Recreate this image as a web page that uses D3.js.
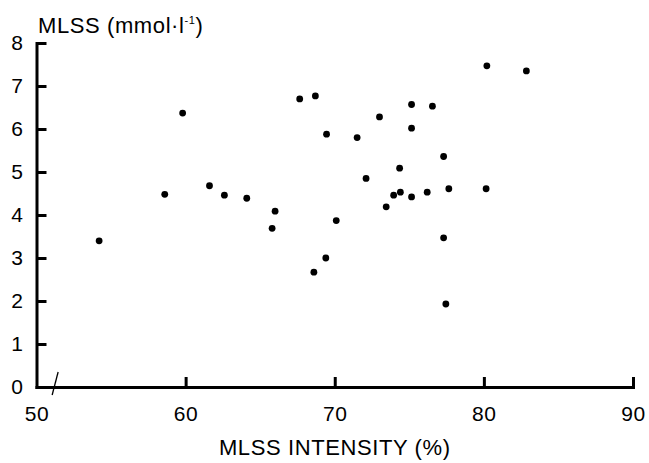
<!DOCTYPE html>
<html>
<head>
<meta charset="utf-8">
<script src="https://cdn.jsdelivr.net/npm/d3@7"></script>
<style>
  body { margin: 0; background: #fff; }
  text { font-family: "Liberation Sans", Arial, sans-serif; fill: #000; }
</style>
</head>
<body>
<div id="chart"></div>
<script>
// MLSS intensity (%) vs MLSS (mmol/l)
var intensity = [54.2, 58.6, 59.8, 61.6, 62.6, 64.1, 65.8, 66.0, 67.65, 68.6, 68.7,
                 69.4, 69.45, 70.1, 71.5, 72.1, 73.0, 73.45, 73.95, 74.35, 74.4,
                 75.15, 75.15, 75.15, 76.2, 76.55, 77.3, 77.3, 77.45, 77.65, 80.15, 80.2, 82.85];
var mlss = [3.40, 4.48, 6.37, 4.68, 4.46, 4.39, 3.69, 4.09, 6.70, 2.67, 6.77,
            3.00, 5.88, 3.87, 5.80, 4.85, 6.28, 4.19, 4.46, 5.09, 4.53,
            6.57, 6.02, 4.42, 4.53, 6.53, 5.36, 3.47, 1.93, 4.61, 4.61, 7.47, 7.35];
var xTicks = [50, 60, 70, 80, 90];
var yTicks = [0, 1, 2, 3, 4, 5, 6, 7, 8];

var width = 649, height = 463;
var svg = d3.select('#chart').append('svg').attr('width', width).attr('height', height);

var x = d3.scaleLinear().domain([50, 90]).range([36.5, 633]);
var y = d3.scaleLinear().domain([0, 8]).range([387, 43]);

// x axis, ticks pointing up into the plot
var gx = svg.append('g').attr('transform', 'translate(0,' + y(0) + ')')
    .call(d3.axisBottom(x).tickValues(xTicks).tickSizeInner(-10).tickSizeOuter(0).tickPadding(19));
gx.selectAll('.tick line').filter(function(d){ return d === 50; }).remove();

// y axis, ticks pointing right
var gy = svg.append('g').attr('transform', 'translate(' + x(50) + ',0)')
    .call(d3.axisLeft(y).tickValues(yTicks).tickSizeInner(-10).tickSizeOuter(0).tickPadding(13));
gy.selectAll('.tick line').filter(function(d){ return d === 0; }).remove();

[gx, gy].forEach(function(g){
  g.select('.domain').attr('stroke', '#000').attr('stroke-width', 3).attr('stroke-linecap', 'square');
  g.selectAll('.tick line').attr('stroke', '#000').attr('stroke-width', 3);
  g.selectAll('.tick text').style('font-size', '21px').style('letter-spacing', '0.6px').attr('fill', '#000');
});

// axis break mark
svg.append('line')
  .attr('x1', x(51.05)).attr('y1', y(0) + 8)
  .attr('x2', x(51.45)).attr('y2', y(0) - 15)
  .attr('stroke', '#000').attr('stroke-width', 1.3);

// points
svg.append('g').selectAll('circle')
  .data(d3.range(intensity.length))
  .enter().append('circle')
  .attr('cx', function(i){ return x(intensity[i]); })
  .attr('cy', function(i){ return y(mlss[i]); })
  .attr('r', 3.4)
  .attr('fill', '#000');

// titles
svg.append('text')
  .attr('x', x(70)).attr('y', 455)
  .attr('text-anchor', 'middle')
  .style('font-size', '22px')
  .style('letter-spacing', '0.6px')
  .text('MLSS INTENSITY (%)');

var yt = svg.append('text').attr('x', 38).attr('y', 33).style('font-size', '22px').style('letter-spacing', '0.6px');
yt.append('tspan').text('MLSS (mmol\u00b7l');
yt.append('tspan').attr('dy', -9).style('font-size', '11px').text('-1');
yt.append('tspan').attr('dy', 9).text(')');
</script>
</body>
</html>
